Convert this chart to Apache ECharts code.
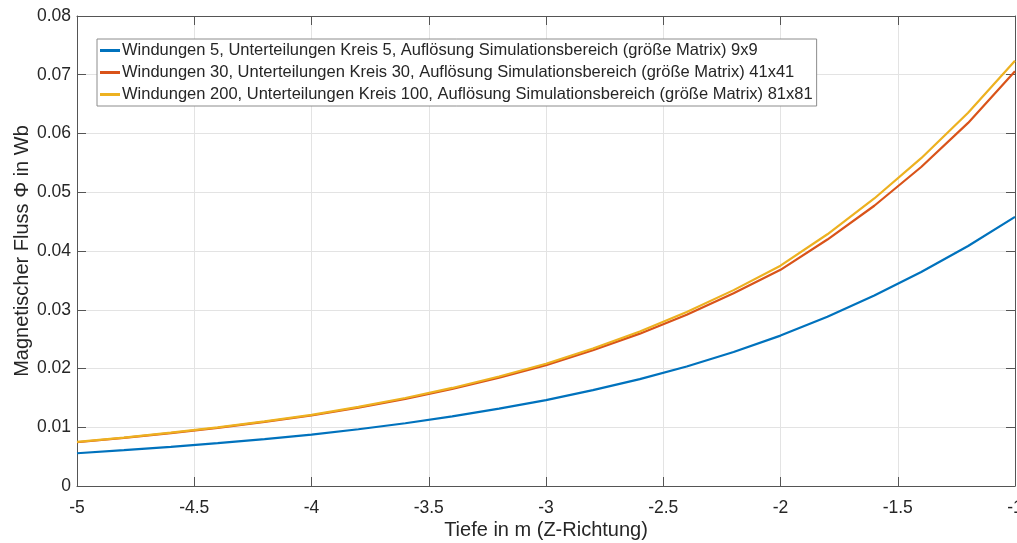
<!DOCTYPE html>
<html>
<head>
<meta charset="utf-8">
<script src="https://cdn.jsdelivr.net/npm/echarts@6/dist/echarts.min.js"></script>
<style>
html,body{margin:0;padding:0;background:#fff;}
#chart{width:1017px;height:543px;}
</style>
</head>
<body>
<div id="chart"></div>
<script>
const depth = [-5, -4.8, -4.6, -4.4, -4.2, -4, -3.8, -3.6, -3.4, -3.2, -3, -2.8, -2.6, -2.4, -2.2, -2, -1.8, -1.6, -1.4, -1.2, -1];
const flux5 = [0.00557, 0.00610, 0.00667, 0.00730, 0.00798, 0.00873, 0.00966, 0.01068, 0.01185, 0.01316, 0.01463, 0.01631, 0.01819, 0.02034, 0.02282, 0.02560, 0.02882, 0.03243, 0.03642, 0.04085, 0.04580];
const flux30 = [0.00745, 0.00820, 0.00901, 0.00990, 0.01091, 0.01200, 0.01334, 0.01484, 0.01652, 0.01842, 0.02055, 0.02310, 0.02593, 0.02915, 0.03280, 0.03680, 0.04195, 0.04770, 0.05430, 0.06180, 0.07060];
const flux200 = [0.00750, 0.00825, 0.00907, 0.00997, 0.01099, 0.01210, 0.01346, 0.01498, 0.01669, 0.01863, 0.02080, 0.02340, 0.02630, 0.02960, 0.03334, 0.03750, 0.04285, 0.04894, 0.05580, 0.06354, 0.07240];
const seriesNames = [
  'Windungen 5, Unterteilungen Kreis 5, Auflösung Simulationsbereich (größe Matrix) 9x9',
  'Windungen 30, Unterteilungen Kreis 30, Auflösung Simulationsbereich (größe Matrix) 41x41',
  'Windungen 200, Unterteilungen Kreis 100, Auflösung Simulationsbereich (größe Matrix) 81x81'
];
const seriesColors = ['#0072BD', '#D95319', '#EDB120'];
const xTitle = 'Tiefe in m (Z-Richtung)';
const yTitle = 'Magnetischer Fluss \u03A6 in Wb';

const FONT = '"Liberation Sans", Arial, Helvetica, sans-serif';
const TXT = '#262626';
const AX = '#555555';
const GRID = '#e3e3e3';

function pairs(ys){ return depth.map((x,i)=>[x, ys[i]]); }
const allData = [flux5, flux30, flux200];

const chart = echarts.init(document.getElementById('chart'), null, {renderer:'canvas'});
const tickStyle = {show:true, inside:true, length:9, lineStyle:{color:AX, width:1}};
chart.setOption({
  backgroundColor:'#ffffff',
  animation:false,
  textStyle:{fontFamily:FONT},
  grid:{left:77, right:2, top:16, bottom:57, containLabel:false, outerBoundsMode:'none'},
  legend:{
    orient:'vertical', left:97, top:39,
    padding:[3,4,3,3],
    itemWidth:20, itemHeight:3, itemGap:5,
    icon:'rect',
    backgroundColor:'#ffffff',
    borderColor:'#8c8c8c', borderWidth:1,
    textStyle:{fontFamily:FONT, fontSize:16.5, lineHeight:17, color:TXT, padding:[0,0,0,-3]},
    data:seriesNames
  },
  xAxis:[{
    type:'value', min:-5, max:-1, interval:0.5,
    name:xTitle, nameLocation:'middle', nameGap:34, nameMoveOverlap:false,
    nameTextStyle:{fontFamily:FONT, fontSize:20, color:TXT},
    axisLine:{show:true, onZero:false, lineStyle:{color:AX, width:1}},
    axisTick:tickStyle,
    axisLabel:{fontFamily:FONT, fontSize:17.5, color:TXT, margin:13},
    splitLine:{show:true, lineStyle:{color:GRID, width:1}}
  },{
    type:'value', min:-5, max:-1, interval:0.5, position:'top',
    axisLine:{show:true, onZero:false, lineStyle:{color:AX, width:1}},
    axisTick:tickStyle, axisLabel:{show:false}, splitLine:{show:false}
  }],
  yAxis:[{
    type:'value', min:0, max:0.08, interval:0.01,
    name:yTitle, nameLocation:'middle', nameGap:45, nameMoveOverlap:false,
    nameTextStyle:{fontFamily:FONT, fontSize:20, color:TXT},
    axisLine:{show:true, onZero:false, lineStyle:{color:AX, width:1}},
    axisTick:tickStyle,
    axisLabel:{fontFamily:FONT, fontSize:17.5, color:TXT, margin:6,
      formatter:function(v){ return String(Math.round(v*100)/100); }},
    splitLine:{show:true, lineStyle:{color:GRID, width:1}}
  },{
    type:'value', min:0, max:0.08, interval:0.01, position:'right',
    axisLine:{show:true, onZero:false, lineStyle:{color:AX, width:1}},
    axisTick:tickStyle, axisLabel:{show:false}, splitLine:{show:false}
  }],
  series: allData.map((d,i)=>({
    name:seriesNames[i], type:'line', data:pairs(d),
    xAxisIndex:0, yAxisIndex:0,
    showSymbol:false, symbol:'none', smooth:false,
    lineStyle:{color:seriesColors[i], width:2.2},
    itemStyle:{color:seriesColors[i]},
    z:2+i
  }))
});
</script>
</body>
</html>
